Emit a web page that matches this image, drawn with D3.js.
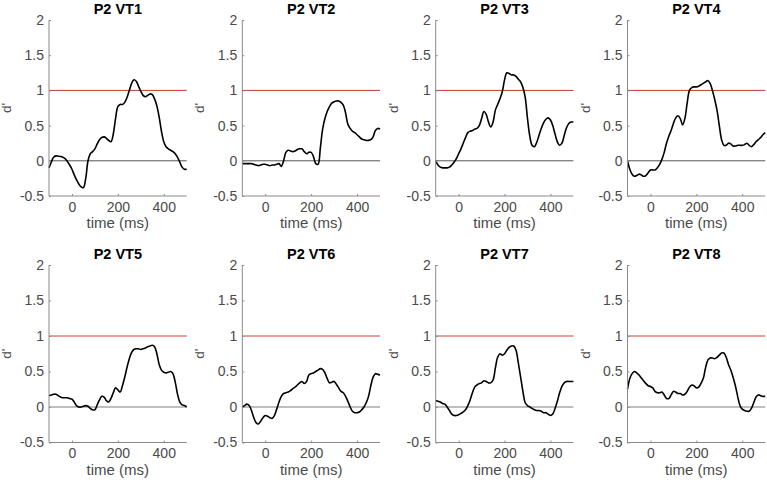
<!DOCTYPE html>
<html>
<head>
<meta charset="utf-8">
<script src="https://cdn.jsdelivr.net/npm/d3@7"></script>
<style>
  html, body { margin: 0; padding: 0; background: #fff; }
  svg { display: block; font-family: "Liberation Sans", Arial, Helvetica, sans-serif; }
</style>
</head>
<body>
<svg id="chart" width="767" height="480"></svg>
<script>
// ---- data ----
const titles = ["P2 VT1", "P2 VT2", "P2 VT3", "P2 VT4", "P2 VT5", "P2 VT6", "P2 VT7", "P2 VT8"];
const timeMs = d3.range(-100, 501, 10); // sample times (ms)
const xTicks = [0, 200, 400];
const yTicks = [-0.5, 0, 0.5, 1, 1.5, 2];
const threshold = 1;

const vt1 = [-0.10,-0.02,0.05,0.07,0.065,0.06,0.05,0.03,-0.01,-0.06,-0.12,-0.20,-0.27,-0.33,-0.37,-0.38,-0.25,0.00,0.10,0.13,0.17,0.24,0.30,0.33,0.34,0.32,0.29,0.27,0.38,0.60,0.77,0.80,0.80,0.83,0.90,1.00,1.10,1.15,1.13,1.06,0.99,0.93,0.91,0.93,0.95,0.94,0.88,0.78,0.62,0.42,0.27,0.20,0.17,0.15,0.13,0.10,0.05,-0.02,-0.09,-0.12,-0.12];
const vt2 = [-0.04,-0.04,-0.04,-0.04,-0.04,-0.05,-0.06,-0.07,-0.06,-0.05,-0.05,-0.06,-0.07,-0.06,-0.06,-0.05,-0.04,-0.08,0.00,0.12,0.15,0.14,0.13,0.14,0.16,0.17,0.17,0.13,0.10,0.12,0.12,0.06,-0.04,-0.05,0.18,0.45,0.60,0.70,0.77,0.82,0.84,0.85,0.85,0.83,0.79,0.68,0.52,0.46,0.42,0.40,0.37,0.34,0.31,0.30,0.29,0.29,0.30,0.34,0.43,0.46,0.45];
const vt3 = [0.00,-0.06,-0.09,-0.10,-0.10,-0.10,-0.09,-0.06,-0.02,0.03,0.10,0.17,0.25,0.33,0.40,0.42,0.43,0.45,0.46,0.50,0.60,0.70,0.66,0.55,0.48,0.55,0.72,0.80,0.88,0.98,1.15,1.25,1.24,1.22,1.22,1.20,1.16,1.12,1.04,0.90,0.60,0.35,0.22,0.20,0.26,0.36,0.46,0.54,0.59,0.61,0.58,0.50,0.38,0.27,0.22,0.25,0.36,0.47,0.53,0.55,0.55];
const vt4 = [0.00,-0.12,-0.19,-0.22,-0.21,-0.19,-0.20,-0.22,-0.21,-0.17,-0.13,-0.13,-0.13,-0.10,-0.05,0.02,0.12,0.25,0.35,0.43,0.53,0.61,0.64,0.60,0.51,0.60,0.82,1.00,1.04,1.05,1.05,1.06,1.08,1.10,1.12,1.14,1.10,1.00,0.87,0.72,0.50,0.30,0.22,0.22,0.25,0.24,0.21,0.21,0.22,0.22,0.22,0.23,0.25,0.22,0.20,0.23,0.27,0.30,0.33,0.37,0.40];
const vt5 = [0.16,0.17,0.18,0.18,0.16,0.14,0.13,0.13,0.13,0.12,0.11,0.07,0.02,0.00,0.00,0.01,0.02,0.01,-0.02,-0.04,-0.04,0.03,0.10,0.15,0.14,0.09,0.07,0.12,0.20,0.27,0.24,0.21,0.30,0.42,0.56,0.68,0.77,0.81,0.82,0.82,0.81,0.82,0.83,0.85,0.86,0.87,0.85,0.75,0.60,0.52,0.49,0.48,0.49,0.50,0.47,0.35,0.18,0.07,0.03,0.02,0.00];
const vt6 = [0.00,0.02,0.04,0.02,-0.05,-0.15,-0.22,-0.24,-0.20,-0.15,-0.12,-0.13,-0.15,-0.16,-0.12,-0.03,0.07,0.15,0.19,0.20,0.21,0.23,0.26,0.28,0.31,0.34,0.36,0.33,0.36,0.45,0.47,0.48,0.50,0.52,0.54,0.53,0.48,0.40,0.34,0.35,0.36,0.32,0.27,0.22,0.20,0.15,0.08,0.00,-0.06,-0.08,-0.08,-0.07,-0.04,0.00,0.06,0.15,0.30,0.42,0.47,0.46,0.45];
const vt7 = [0.09,0.08,0.07,0.05,0.04,0.00,-0.05,-0.10,-0.12,-0.12,-0.11,-0.09,-0.07,-0.04,0.02,0.10,0.20,0.28,0.31,0.33,0.34,0.37,0.36,0.34,0.34,0.38,0.55,0.70,0.75,0.73,0.75,0.80,0.84,0.86,0.86,0.80,0.62,0.42,0.22,0.06,0.02,0.00,-0.02,-0.04,-0.05,-0.05,-0.06,-0.08,-0.08,-0.10,-0.12,-0.10,-0.02,0.08,0.20,0.29,0.34,0.36,0.36,0.36,0.36];
const vt8 = [0.25,0.40,0.47,0.50,0.48,0.45,0.41,0.37,0.33,0.30,0.29,0.27,0.22,0.20,0.20,0.21,0.17,0.12,0.12,0.17,0.22,0.21,0.19,0.19,0.17,0.18,0.22,0.28,0.31,0.30,0.27,0.28,0.33,0.40,0.55,0.66,0.69,0.69,0.68,0.70,0.73,0.76,0.76,0.70,0.60,0.52,0.42,0.30,0.15,0.02,-0.03,-0.05,-0.06,-0.06,-0.02,0.06,0.14,0.17,0.16,0.15,0.15];
const seriesValues = [vt1, vt2, vt3, vt4, vt5, vt6, vt7, vt8];

// ---- layout ----
const colLeft = [49, 242.3, 435.7, 627.5];
const plotW = 137.7;
const rowTop = [20, 265];
const plotH = [176, 177.5];

const svg = d3.select("#chart");
const tickColor = "#4a4a4a";
const axisColor = "#8a8a8a";

seriesValues.forEach((vals, i) => {
  const row = Math.floor(i / 4), col = i % 4;
  const left = colLeft[col], top = rowTop[row], h = plotH[row];
  const x = d3.scaleLinear().domain([-100, 500]).range([0, plotW]);
  const y = d3.scaleLinear().domain([-0.5, 2]).range([h, 0]);
  const g = svg.append("g").attr("transform", `translate(${left},${top})`);

  // reference lines
  g.append("line")
    .attr("x1", x(-100)).attr("x2", x(500))
    .attr("y1", y(threshold)).attr("y2", y(threshold))
    .attr("stroke", row === 0 ? "#c8362f" : "#df7f78")
    .attr("stroke-width", row === 0 ? 1 : 1.4);
  g.append("line")
    .attr("x1", x(-100)).attr("x2", x(500))
    .attr("y1", y(0)).attr("y2", y(0))
    .attr("stroke", row === 0 ? "#555" : "#a8a8a8")
    .attr("stroke-width", row === 0 ? 1 : 1.4);

  // data line
  const line = d3.line()
    .x((d, j) => x(timeMs[j]))
    .y(d => y(d))
    .curve(d3.curveCatmullRom.alpha(0.5));
  g.append("path")
    .datum(vals)
    .attr("fill", "none")
    .attr("stroke", "#000")
    .attr("stroke-width", 1.6)
    .attr("stroke-linejoin", "round")
    .attr("d", line);

  // axes
  const xAxis = g.append("g").attr("transform", `translate(0,${h})`)
    .call(d3.axisBottom(x).tickValues(xTicks).tickSize(-2).tickPadding(6).tickFormat(d => String(d)));
  const yAxis = g.append("g")
    .call(d3.axisLeft(y).tickValues(yTicks).tickSize(-2).tickPadding(5).tickFormat(d => String(d)));
  [xAxis, yAxis].forEach(a => {
    a.select(".domain").attr("stroke", axisColor).attr("stroke-width", 1);
    a.selectAll(".tick line").attr("stroke", axisColor);
    a.selectAll(".tick text").attr("fill", tickColor).attr("font-size", 14)
      .attr("font-family", "Liberation Sans, Arial, sans-serif");
  });
  xAxis.select(".domain").attr("d", `M0,0H${plotW}`);
  yAxis.select(".domain").attr("d", `M0,${h}V0`);
  xAxis.selectAll(".tick text").attr("dy", "0.71em").attr("y", 6);

  // labels
  g.append("text")
    .attr("x", plotW / 2).attr("y", h + 32)
    .attr("text-anchor", "middle")
    .attr("font-size", 15).attr("fill", tickColor)
    .text("time (ms)");
  g.append("text")
    .attr("transform", `translate(-38,${h / 2}) rotate(-90)`)
    .attr("text-anchor", "middle")
    .attr("font-size", 13.5).attr("fill", tickColor)
    .text("d'");
  g.append("text")
    .attr("x", plotW / 2).attr("y", -6.5)
    .attr("text-anchor", "middle")
    .attr("font-size", 14.5).attr("font-weight", "bold").attr("fill", "#000")
    .text(titles[i]);
});
</script>
</body>
</html>
